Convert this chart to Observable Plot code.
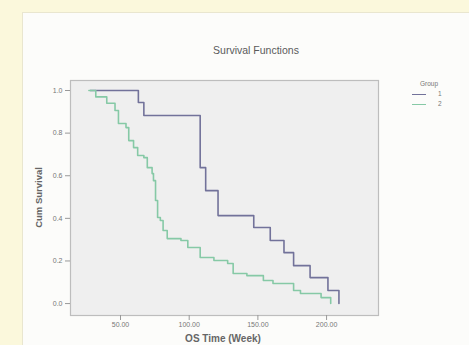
<!DOCTYPE html>
<html>
<head>
<meta charset="utf-8">
<script src="https://cdn.jsdelivr.net/npm/d3@7"></script>
<script src="https://cdn.jsdelivr.net/npm/@observablehq/plot@0.6"></script>
<style>
  body { margin:0; background:#FBF8DC; font-family:"Liberation Sans", Arial, sans-serif; }
  #wrap { position:relative; width:469px; height:345px; overflow:hidden; background:#FBF8DC; }
  #panel { position:absolute; left:22px; top:12px; width:447px; height:333px; background:#FCFCFA; border-left:1px solid #E9E6CF; border-top:1px solid #E9E6CF; }
  #chart { position:absolute; left:0; top:0; }
  .txt { position:absolute; color:#555; white-space:nowrap; }
  #title { left:156px; width:200px; top:44px; text-align:center; font-size:10.5px; color:#5a5a5a; }
  #xlab { left:123px; width:200px; top:333px; text-align:center; font-size:10px; font-weight:bold; color:#666; }
  #ylab { left:-62px; width:200px; top:192px; text-align:center; font-size:9.5px; font-weight:bold; color:#666; transform:rotate(-90deg); }
  #legend { position:absolute; left:408px; top:80px; width:42px; font-size:6.5px; color:#777; }
  #legend .row { position:relative; height:10px; }
  #legend .sw { position:absolute; left:4px; top:4px; width:14px; height:0; border-top:1.5px solid; }
  #legend .lb { position:absolute; left:30px; top:0; }
</style>
</head>
<body>
<div id="wrap">
  <div id="panel"></div>
  <div id="chart"></div>
  <div id="title" class="txt">Survival Functions</div>
  <div id="xlab" class="txt">OS Time (Week)</div>
  <div id="ylab" class="txt">Cum Survival</div>
  <div id="legend"></div>
</div>
<script>
// Group labels and colours
const groups = ["1", "2"];
const groupColors = ["#72729A", "#86C9A6"];

// Group 1 survival steps (time in weeks, cumulative survival)
const times1 = [28, 63, 67, 108, 112, 121, 147, 159, 169, 176, 188, 201, 209];
const surv1  = [1.0, 0.944, 0.883, 0.638, 0.53, 0.413, 0.357, 0.296, 0.239, 0.178, 0.122, 0.061, 0.0];

// Group 2 survival steps
const times2 = [27, 32, 40, 46, 48.5, 54, 56, 59.5, 62.5, 67, 69.5, 73, 74, 75.5, 77, 79, 81, 84, 94, 99, 108, 118, 128, 132, 142, 154, 161, 176, 181, 196, 203];
const surv2  = [1.0, 0.97, 0.94, 0.906, 0.845, 0.826, 0.765, 0.732, 0.695, 0.685, 0.638, 0.61, 0.577, 0.484, 0.404, 0.39, 0.343, 0.305, 0.296, 0.263, 0.216, 0.202, 0.188, 0.141, 0.131, 0.108, 0.094, 0.061, 0.047, 0.028, 0.0];

// Axis ticks
const xTicks = [50, 100, 150, 200];
const yTicks = [0, 0.2, 0.4, 0.6, 0.8, 1.0];

const rows = [
  ...times1.map((t, i) => ({time: t, surv: surv1[i], group: groups[0]})),
  ...times2.map((t, i) => ({time: t, surv: surv2[i], group: groups[1]}))
];

const chart = Plot.plot({
  width: 469,
  height: 345,
  marginLeft: 70,
  marginRight: 91,
  marginTop: 80,
  marginBottom: 30,
  style: {background: "transparent", fontFamily: "Liberation Sans, Arial, sans-serif", color: "#777"},
  x: {domain: [13.6, 237.8]},
  y: {domain: [-0.056, 1.047]},
  color: {domain: groups, range: groupColors},
  marks: [
    Plot.frame({fill: "#EFEFEF", stroke: "#BDBDBD", strokeWidth: 1.2}),
    Plot.axisX({ticks: xTicks, tickFormat: d3.format(".2f"), tickSize: 5, tickPadding: 2, fontSize: 7, label: null, stroke: "#999"}),
    Plot.axisY({ticks: yTicks, tickFormat: d3.format(".1f"), tickSize: 5, tickPadding: 3, fontSize: 7, label: null, stroke: "#999"}),
    Plot.line(rows, {x: "time", y: "surv", z: "group", stroke: "group", curve: "step-after", strokeWidth: 1.6})
  ]
});
document.getElementById("chart").appendChild(chart);

const leg = document.getElementById("legend");
leg.innerHTML = '<div class="row" style="padding-left:12px">Group</div>' +
  groups.map((g, i) => `<div class="row"><div class="sw" style="border-color:${groupColors[i]}"></div><div class="lb">${g}</div></div>`).join("");
</script>
</body>
</html>
